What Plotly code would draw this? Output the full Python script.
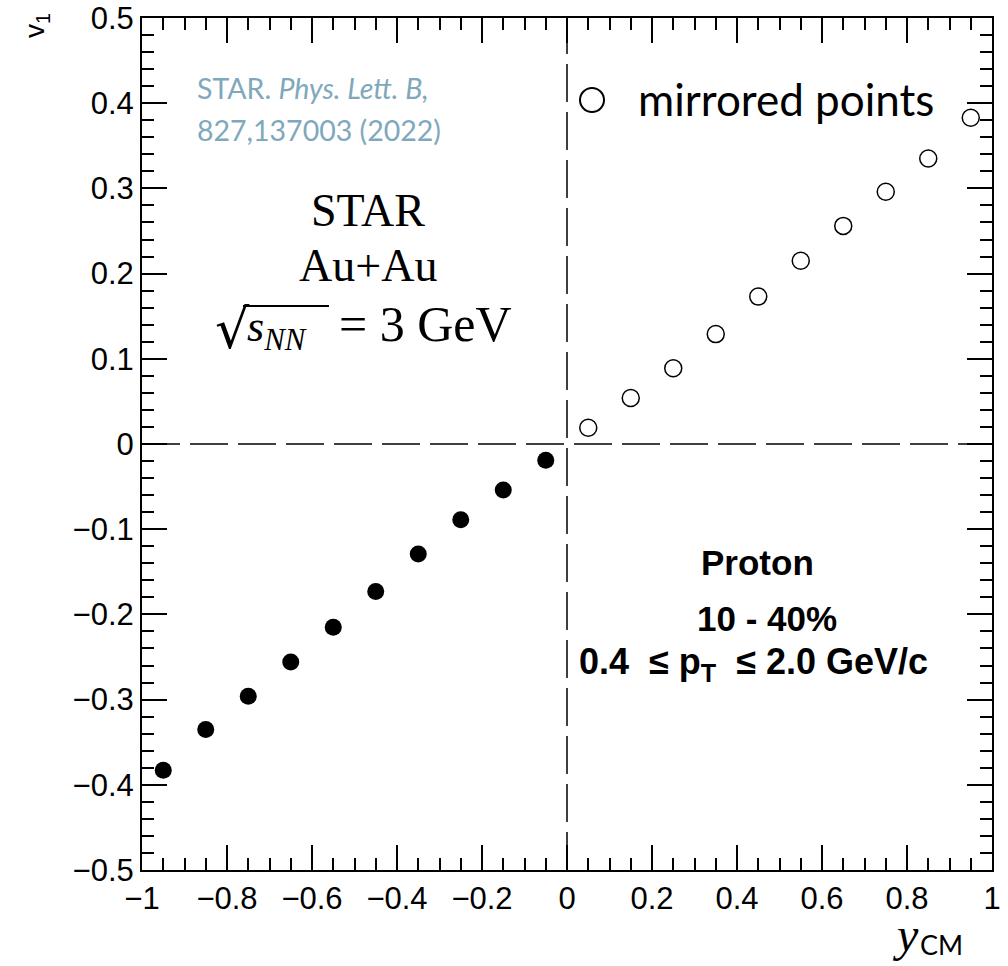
import plotly.graph_objects as go

# ---- data ----
y_cm_measured = [-0.95, -0.85, -0.75, -0.65, -0.55, -0.45, -0.35, -0.25, -0.15, -0.05]
v1_measured = [-0.383, -0.335, -0.296, -0.256, -0.215, -0.173, -0.129, -0.089, -0.054, -0.019]
y_cm_mirrored = [0.05, 0.15, 0.25, 0.35, 0.45, 0.55, 0.65, 0.75, 0.85, 0.95]
v1_mirrored = [0.019, 0.054, 0.089, 0.129, 0.173, 0.215, 0.256, 0.296, 0.335, 0.383]

x_ticks = [-1, -0.8, -0.6, -0.4, -0.2, 0, 0.2, 0.4, 0.6, 0.8, 1]
x_ticktext = ["\u22121", "\u22120.8", "\u22120.6", "\u22120.4", "\u22120.2", "0", "0.2", "0.4", "0.6", "0.8", "1"]
y_ticks = [-0.5, -0.4, -0.3, -0.2, -0.1, 0, 0.1, 0.2, 0.3, 0.4, 0.5]
y_ticktext = ["\u22120.5", "\u22120.4", "\u22120.3", "\u22120.2", "\u22120.1", "0", "0.1", "0.2", "0.3", "0.4", "0.5"]

W, H = 1008, 966
L, R, T, B = 142, 16, 18, 96
PW, PH = W - L - R, H - T - B


def px(x):
    return (x - L) / PW


def py(y):
    return (H - B - y) / PH


fig = go.Figure()
fig.add_trace(go.Scatter(x=y_cm_measured, y=v1_measured, mode="markers",
                         marker=dict(symbol="circle", size=17, color="black"),
                         showlegend=False))
fig.add_trace(go.Scatter(x=y_cm_mirrored, y=v1_mirrored, mode="markers",
                         marker=dict(symbol="circle-open", size=17, color="black",
                                     line=dict(width=1.5)),
                         showlegend=False))

dash = "38px,10px"
fig.add_shape(type="line", xref="x", yref="y", x0=-1, x1=1, y0=0, y1=0,
              line=dict(color="black", width=1.5, dash=dash), layer="below")
fig.add_shape(type="line", xref="x", yref="y", x0=0, x1=0, y0=-0.5, y1=0.5,
              line=dict(color="black", width=1.5, dash=dash), layer="below")

# custom legend circle
fig.add_shape(type="circle", xref="paper", yref="paper",
              x0=px(580), x1=px(604), y0=py(112), y1=py(88),
              line=dict(color="black", width=2), fillcolor="rgba(0,0,0,0)")
# overline of the square root
fig.add_shape(type="line", xref="paper", yref="paper",
              x0=px(243), x1=px(329), y0=py(306), y1=py(306),
              line=dict(color="black", width=2))

ann = []
ann.append(dict(x=px(636), y=py(99), text="mirrored points", xanchor="left", yanchor="middle",
                font=dict(family="Lato", size=44, color="black")))
cite_col = "#7FA8BC"
ann.append(dict(x=px(195), y=py(88), text="STAR. <i>Phys. Lett. B,</i>", xanchor="left", yanchor="middle",
                font=dict(family="Lato", size=28.5, color=cite_col)))
ann.append(dict(x=px(195), y=py(130), text="827,137003 (2022)", xanchor="left", yanchor="middle",
                font=dict(family="Lato", size=28.5, color=cite_col)))
serif = "Liberation Serif"
ann.append(dict(x=px(368), y=py(210), text="STAR", xanchor="center", yanchor="middle",
                font=dict(family=serif, size=46, color="black")))
ann.append(dict(x=px(368), y=py(265), text="Au+Au", xanchor="center", yanchor="middle",
                font=dict(family=serif, size=46, color="black")))
ann.append(dict(x=px(232), y=py(330), text="\u221a", xanchor="center", yanchor="middle",
                font=dict(family="DejaVu Serif", size=54, color="black")))
ann.append(dict(x=px(245), y=py(330), text="<i>s<sub>NN</sub></i>", xanchor="left", yanchor="middle",
                font=dict(family=serif, size=44, color="black")))
ann.append(dict(x=px(337), y=py(324), text="= 3 GeV", xanchor="left", yanchor="middle",
                font=dict(family=serif, size=50, color="black")))
bold = "Liberation Sans"
ann.append(dict(x=px(757), y=py(562), text="<b>Proton</b>", xanchor="center", yanchor="middle",
                font=dict(family=bold, size=35, color="black")))
ann.append(dict(x=px(767), y=py(618), text="<b>10 - 40%</b>", xanchor="center", yanchor="middle",
                font=dict(family=bold, size=35, color="black")))
ann.append(dict(x=px(753), y=py(664),
                text="<b>0.4  \u2264 p<sub>T</sub>  \u2264 2.0 GeV/c</b>", xanchor="center", yanchor="middle",
                font=dict(family=bold, size=36, color="black")))
# axis titles
ann.append(dict(x=px(36), y=py(26), text="v<sub>1</sub>", textangle=-90, xanchor="center", yanchor="middle",
                font=dict(family="Liberation Sans", size=28, color="black")))
ann.append(dict(x=px(905), y=py(934), text="<i>y</i>", xanchor="center", yanchor="middle",
                font=dict(family=serif, size=48, color="black")))
ann.append(dict(x=px(941), y=py(944), text="CM", xanchor="center", yanchor="middle",
                font=dict(family="Lato", size=27, color="black")))
for a in ann:
    a.update(xref="paper", yref="paper", showarrow=False)

axis_common = dict(
    showline=True, linecolor="black", linewidth=2, mirror="ticks",
    ticks="inside", ticklen=25, tickwidth=1.5, tickcolor="black",
    showgrid=False, zeroline=False, automargin=False,
    tickfont=dict(family="Liberation Sans", size=31, color="black"),
)
fig.update_layout(
    width=W, height=H,
    margin=dict(l=L, r=R, t=T, b=B, autoexpand=False),
    paper_bgcolor="white", plot_bgcolor="white",
    annotations=ann,
    xaxis=dict(range=[-1, 1], tickvals=x_ticks, ticktext=x_ticktext,
               minor=dict(dtick=0.05, tick0=-1, ticklen=12, ticks="inside", tickwidth=1.5, tickcolor="black"),
               **axis_common),
    yaxis=dict(range=[-0.5, 0.5], tickvals=y_ticks, ticktext=y_ticktext,
               minor=dict(dtick=0.02, tick0=-0.5, ticklen=12, ticks="inside", tickwidth=1.5, tickcolor="black"),
               **axis_common),
)
fig.write_html("out.html")
